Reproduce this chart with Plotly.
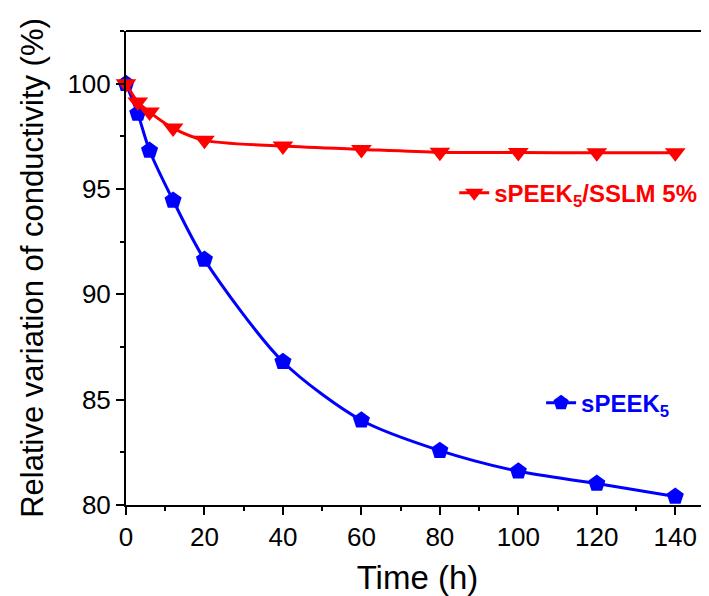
import plotly.graph_objects as go

time_h = [0, 3, 6, 12, 20, 40, 60, 80, 100, 120, 140]
speek5 = [100.0, 98.58, 96.83, 94.46, 91.65, 86.8, 84.02, 82.58, 81.6, 81.02, 80.4]
speek5_sslm = [100.0, 99.13, 98.65, 97.89, 97.31, 97.04, 96.88, 96.74, 96.73, 96.72, 96.72]

name_blue = "<b>sPEEK<sub>5</sub></b>"
name_red = "<b>sPEEK<sub>5</sub>/SSLM 5%</b>"

FONT = "Arial, 'Liberation Sans', sans-serif"

fig = go.Figure()
fig.add_trace(go.Scatter(
    x=time_h, y=speek5, name=name_blue, mode="lines+markers",
    line=dict(color="#0000FF", width=3, shape="spline", smoothing=0.8),
    marker=dict(symbol="pentagon", size=18, color="#0000FF"),
    legend="legend2", cliponaxis=False,
))
fig.add_trace(go.Scatter(
    x=time_h, y=speek5_sslm, name=name_red, mode="lines+markers",
    line=dict(color="#FF0000", width=3, shape="spline", smoothing=0.8),
    marker=dict(symbol="triangle-down", size=18, color="#FF0000"),
    legend="legend", cliponaxis=False,
))

fig.update_layout(
    width=709, height=596,
    margin=dict(l=118, r=8, t=23, b=99, autoexpand=False),
    paper_bgcolor="white", plot_bgcolor="white",
    font=dict(family=FONT, size=26, color="black"),
    showlegend=True,
    legend=dict(x=0.563, y=0.658, xanchor="left", yanchor="middle",
                bgcolor="rgba(0,0,0,0)", font=dict(size=24, color="#FF0000", family=FONT)),
    legend2=dict(x=0.712, y=0.215, xanchor="left", yanchor="middle",
                 bgcolor="rgba(0,0,0,0)", font=dict(size=24, color="#0000FF", family=FONT)),
    xaxis=dict(
        range=[0, 148.6], tickvals=[0, 20, 40, 60, 80, 100, 120, 140],
        ticks="outside", ticklen=8, tickwidth=2, tickcolor="black",
        showline=True, linewidth=2, linecolor="black", mirror=False,
        showgrid=False, zeroline=False, automargin=False,
        minor=dict(dtick=10, tick0=0, ticks="outside", ticklen=4, tickwidth=2, tickcolor="black"),
        title=dict(text="Time (h)", font=dict(size=33), standoff=15),
        tickfont=dict(size=26),
    ),
    yaxis=dict(
        range=[80, 102.5], tickvals=[80, 85, 90, 95, 100],
        ticks="outside", ticklen=8, tickwidth=2, tickcolor="black",
        showline=True, linewidth=2, linecolor="black",
        showgrid=False, zeroline=False, automargin=False,
        minor=dict(dtick=2.5, tick0=80, ticks="outside", ticklen=4, tickwidth=2, tickcolor="black"),
        title=dict(text="Relative variation of conductivity (%)", font=dict(size=31), standoff=15),
        tickfont=dict(size=26),
    ),
    shapes=[dict(type="line", xref="paper", yref="paper", x0=0, x1=1, y0=1, y1=1,
                 line=dict(color="black", width=2))],
)

fig.write_html("out.html")
